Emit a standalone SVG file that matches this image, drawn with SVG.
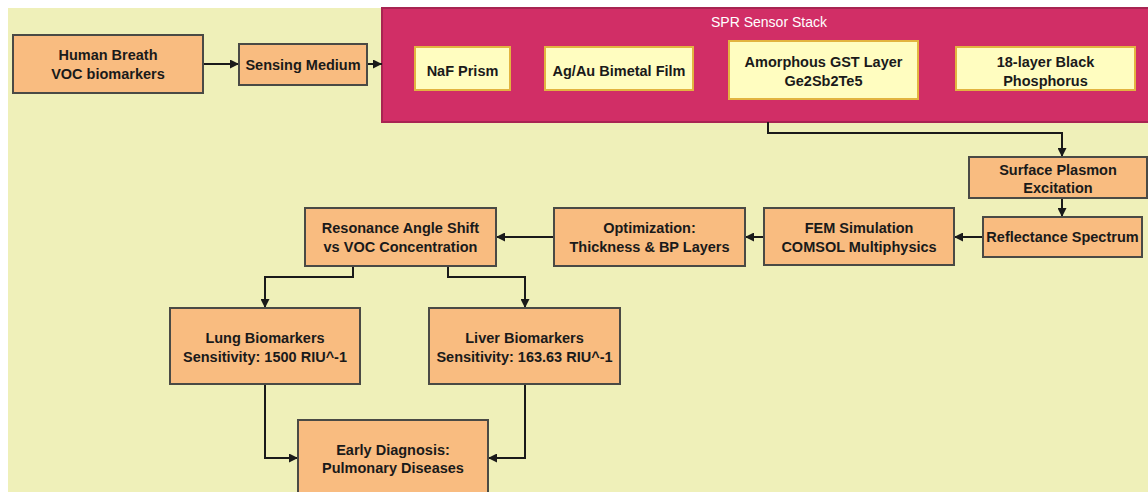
<svg xmlns="http://www.w3.org/2000/svg" width="1148" height="492" viewBox="0 0 1148 492">
<defs>
<marker id="ah" viewBox="0 0 10 10" refX="10" refY="5" markerWidth="9" markerHeight="9" markerUnits="userSpaceOnUse" orient="auto">
<path d="M0,0 L10,5 L0,10 z" fill="#1a1a1a"/>
</marker>
<style>
.node{fill:#F9BC80;stroke:#4a4a45;stroke-width:2}
.inner{fill:#FFFDC0;stroke:#E2B440;stroke-width:2}
.t{font-family:"Liberation Sans",Arial,sans-serif;font-weight:bold;font-size:14.5px;fill:#1a1a1a;text-anchor:middle}
.e{fill:none;stroke:#1a1a1a;stroke-width:2;marker-end:url(#ah)}
</style>
</defs>
<rect x="0" y="0" width="1148" height="492" fill="#ffffff"/>
<rect x="8" y="8" width="1140" height="484" fill="#EFF0B9"/>

<g id="cluster">
<rect x="382" y="8" width="770" height="114" fill="#D12E66" stroke="#A82452" stroke-width="2"/>
<text x="769" y="27" font-family="'Liberation Sans',Arial,sans-serif" font-size="14px" fill="#ffffff" text-anchor="middle">SPR Sensor Stack</text>
</g>

<g id="edges">
<path class="e" d="M203,64 L239,64"/>
<path class="e" d="M367,64 L382,64"/>
<path class="e" d="M768,122 L768,133 L1062,133 L1062,157"/>
<path class="e" d="M1062,198 L1062,217"/>
<path class="e" d="M983,237 L954,237"/>
<path class="e" d="M764,237 L745,237"/>
<path class="e" d="M554,237 L496,237"/>
<path class="e" d="M353,266 L353,277 L265,277 L265,308"/>
<path class="e" d="M448,266 L448,277 L525,277 L525,308"/>
<path class="e" d="M265,384 L265,458 L298,458"/>
<path class="e" d="M525,384 L525,458 L488,458"/>
</g>

<g id="human_breath">
<rect class="node" x="13" y="35" width="190" height="58"/>
<text class="t" x="108" y="60">Human Breath</text>
<text class="t" x="108" y="79">VOC biomarkers</text>
</g>
<g id="sensing_medium">
<rect class="node" x="239" y="44" width="128" height="41"/>
<text class="t" x="303" y="70">Sensing Medium</text>
</g>
<g id="naf_prism">
<rect class="inner" x="415" y="47" width="95" height="43"/>
<text class="t" x="462.5" y="76">NaF Prism</text>
</g>
<g id="agau_film">
<rect class="inner" x="545" y="47" width="148" height="43"/>
<text class="t" x="619" y="76">Ag/Au Bimetal Film</text>
</g>
<g id="gst_layer">
<rect class="inner" x="729" y="41" width="189" height="58"/>
<text class="t" x="823.5" y="67">Amorphous GST Layer</text>
<text class="t" x="823.5" y="86">Ge2Sb2Te5</text>
</g>
<g id="black_phosphorus">
<rect class="inner" x="956" y="47" width="179" height="43"/>
<text class="t" x="1045.5" y="67">18-layer Black</text>
<text class="t" x="1045.5" y="86">Phosphorus</text>
</g>
<g id="surface_plasmon">
<rect class="node" x="969" y="157" width="178" height="41"/>
<text class="t" x="1058" y="175">Surface Plasmon</text>
<text class="t" x="1058" y="193">Excitation</text>
</g>
<g id="reflectance">
<rect class="node" x="983" y="217" width="159" height="40"/>
<text class="t" x="1062.5" y="242">Reflectance Spectrum</text>
</g>
<g id="fem">
<rect class="node" x="764" y="208" width="190" height="57"/>
<text class="t" x="859" y="233">FEM Simulation</text>
<text class="t" x="859" y="252">COMSOL Multiphysics</text>
</g>
<g id="optimization">
<rect class="node" x="554" y="208" width="191" height="58"/>
<text class="t" x="649.5" y="233">Optimization:</text>
<text class="t" x="649.5" y="252">Thickness &amp; BP Layers</text>
</g>
<g id="resonance">
<rect class="node" x="305" y="208" width="191" height="58"/>
<text class="t" x="400.5" y="233">Resonance Angle Shift</text>
<text class="t" x="400.5" y="252">vs VOC Concentration</text>
</g>
<g id="lung">
<rect class="node" x="170" y="308" width="190" height="76"/>
<text class="t" x="265" y="343">Lung Biomarkers</text>
<text class="t" x="265" y="362">Sensitivity: 1500 RIU^-1</text>
</g>
<g id="liver">
<rect class="node" x="429" y="308" width="191" height="76"/>
<text class="t" x="524.5" y="343">Liver Biomarkers</text>
<text class="t" x="524.5" y="362">Sensitivity: 163.63 RIU^-1</text>
</g>
<g id="early_diagnosis">
<rect class="node" x="298" y="420" width="190" height="82"/>
<text class="t" x="393" y="455">Early Diagnosis:</text>
<text class="t" x="393" y="473">Pulmonary Diseases</text>
</g>
</svg>
